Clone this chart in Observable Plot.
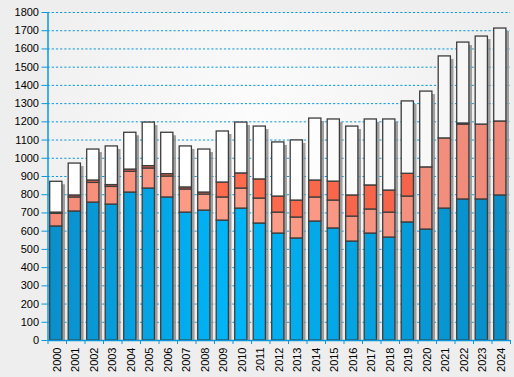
<!DOCTYPE html>
<html><head><meta charset="utf-8">
<script src="https://cdn.jsdelivr.net/npm/d3@7"></script>
<script src="https://cdn.jsdelivr.net/npm/@observablehq/plot@0.6"></script>
<style>html,body{margin:0;padding:0;background:#EEEEEE;} #chart svg{display:block;}</style>
</head><body><div id="chart"></div>
<script>
const years = [2000,2001,2002,2003,2004,2005,2006,2007,2008,2009,2010,2011,2012,2013,2014,2015,2016,2017,2018,2019,2020,2021,2022,2023,2024];
const seriesNames = ["blue","salmon","red","white"];
const blueValues   = [626,708,757,746,812,834,785,702,713,658,724,642,587,560,653,615,543,587,565,648,609,724,774,774,796];
const salmonValues = [69,77,108,97,114,110,115,127,88,127,110,137,115,115,132,153,137,132,137,142,341,385,411,411,406];
const redValues    = [7,11,13,10,12,13,13,11,11,82,83,105,88,93,93,104,116,132,121,125,0,0,6,0,0];
const whiteValues  = [169,175,170,212,202,239,227,225,236,280,279,290,297,330,340,341,378,362,390,397,416,450,444,483,510];
const yTicks = d3.range(0, 1801, 100);

const seriesValues = [blueValues, salmonValues, redValues, whiteValues];
const fills = ["url(#gBlue)", "url(#gSalmon)", "url(#gRed)", "url(#gWhite)"];
const rows = [];
years.forEach((year, i) => {
  let base = 0;
  seriesValues.forEach((vals, s) => {
    rows.push({year, i, series: seriesNames[s], y1: base, y2: base + vals[i]});
    base += vals[i];
  });
});
const totals = years.map((year, i) => ({year, i, total: d3.sum(seriesValues, v => v[i])}));

const axisBlue = "#0A98D8";
const segMarks = seriesNames.map((name, s) =>
  Plot.rect(rows.filter(r => r.series === name && r.y2 > r.y1), {
    x1: "i", x2: d => d.i + 1, y1: "y1", y2: "y2",
    insetLeft: 2.2, insetRight: 4.1,
    fill: fills[s], stroke: "#3d3d3d", strokeWidth: 1.3
  })
);

const chart = Plot.plot({
  width: 514, height: 377,
  marginLeft: 47.5, marginRight: 4, marginTop: 12, marginBottom: 37,
  style: {fontFamily: "'Liberation Sans', Arial, sans-serif", fontSize: "11px", background: "#EEEEEE", color: "black", overflow: "visible"},
  x: {type: "linear", domain: [0, years.length], label: null},
  y: {domain: [0, 1800], label: null},
  marks: [
    Plot.frame({fill: "url(#gBg)", stroke: "none"}),
    Plot.ruleY(yTicks.filter(d => d > 0), {stroke: axisBlue, strokeDasharray: "2.2,2", strokeWidth: 1}),
    Plot.rect(totals, {x1: "i", x2: d => d.i + 1, y1: 0, y2: "total", insetLeft: 5.4, insetRight: 1.0, insetTop: 3, fill: "#8a8a8a", fillOpacity: 0.8}),
    ...segMarks,
    Plot.ruleX([0], {stroke: axisBlue, strokeWidth: 1.5}),
    Plot.ruleY([0], {stroke: axisBlue, strokeWidth: 1.5}),
    Plot.axisY({ticks: yTicks, tickSize: 6, tickPadding: 3, stroke: axisBlue, fill: "black", label: null, tickFormat: d => String(d)}),
    Plot.axisX({ticks: d3.range(0, years.length + 1), tickSize: 4, stroke: axisBlue, tickFormat: () => "", label: null}),
    Plot.axisX({ticks: years.map((y, i) => i + 0.5), tickSize: 0, tickPadding: 7, tickRotate: -90, fill: "black", label: null,
      tickFormat: v => String(years[Math.floor(v)])})
  ]
});

const defs = d3.select(chart).insert("defs", ":first-child");
function lin(id, stops) {
  const g = defs.append("linearGradient").attr("id", id)
    .attr("gradientUnits", "userSpaceOnUse").attr("x1", 48).attr("x2", 510).attr("y1", 0).attr("y2", 0);
  stops.forEach(([o, c]) => g.append("stop").attr("offset", o).attr("stop-color", c));
}
lin("gBlue", [[0, "#0A8FCB"], [0.4, "#00B6F9"], [1, "#0A8CC6"]]);
lin("gSalmon", [[0, "#F58A76"], [0.4, "#FFA08A"], [1, "#EE8878"]]);
lin("gRed", [[0, "#F2604A"], [0.4, "#FF6B4D"], [1, "#EE6048"]]);
lin("gWhite", [[0, "#FFFFFF"], [0.5, "#FFFFFF"], [1, "#F4F4F4"]]);
const rg = defs.append("radialGradient").attr("id", "gBg").attr("cx", "45%").attr("cy", "30%").attr("r", "75%");
rg.append("stop").attr("offset", 0).attr("stop-color", "#FCFCFC");
rg.append("stop").attr("offset", 1).attr("stop-color", "#EAEAEA");

document.getElementById("chart").appendChild(chart);
</script>
</body></html>
